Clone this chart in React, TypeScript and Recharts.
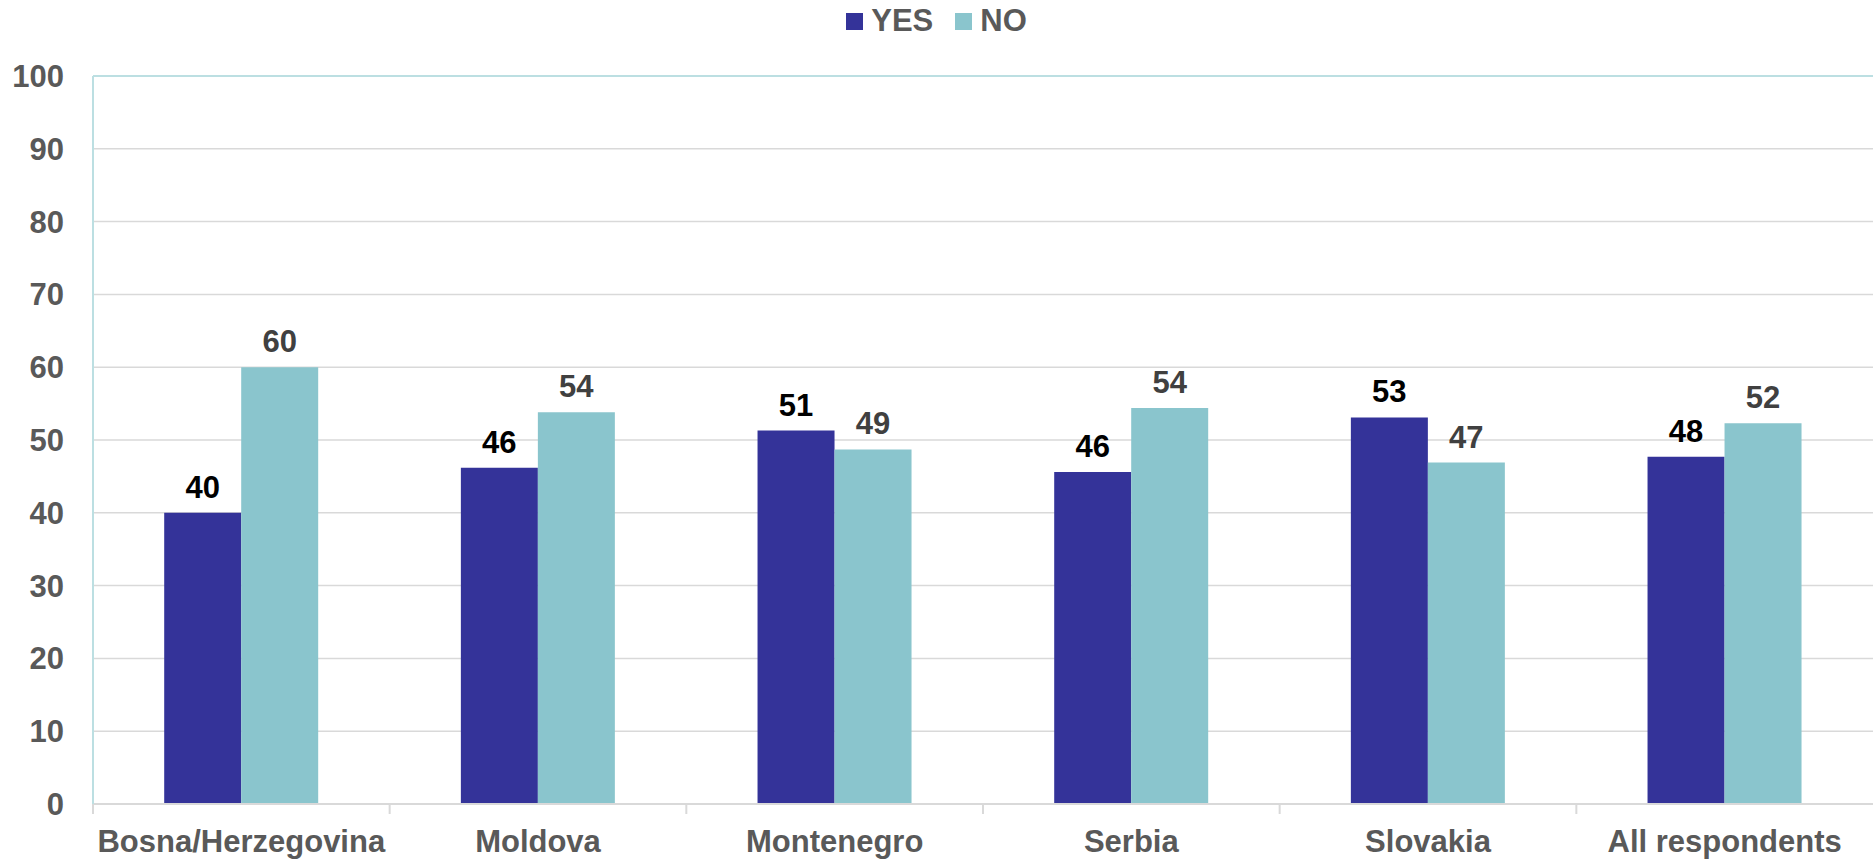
import { Bar, BarChart, CartesianGrid, LabelList, ReferenceLine, XAxis, YAxis } from 'recharts'

const categories = ['Bosna/Herzegovina', 'Moldova', 'Montenegro', 'Serbia', 'Slovakia', 'All respondents']
const yesValues = [40, 46.2, 51.3, 45.6, 53.1, 47.7]
const noValues = [60, 53.8, 48.7, 54.4, 46.9, 52.3]
const yTicks = [0, 10, 20, 30, 40, 50, 60, 70, 80, 90, 100]

const W = 1873
const H = 861
const AXIS_W = 93
const BAND = (W - AXIS_W) / categories.length
const FONT = '"Liberation Sans", Arial, sans-serif'
const GREY = '#595959'
const YES_COLOR = '#343399'
const NO_COLOR = '#8ac5cd'
const CYAN = '#bcdfe2'
const FS = 31

const data = categories.map((name, i) => ({ name, yes: yesValues[i], no: noValues[i] }))

function CategoryTick(props: any) {
  const { x, y, payload } = props
  const left = x - BAND / 2
  return (
    <g>
      <line x1={left} x2={left} y1={y} y2={y + 10} stroke="#d9d9d9" strokeWidth={2} />
      <text x={x} y={y + 48} textAnchor="middle" fill={GREY} fontSize={FS} fontWeight="bold" fontFamily={FONT}>
        {payload.value}
      </text>
    </g>
  )
}

function LegendBox() {
  const item = (label: string, color: string) => (
    <div style={{ display: 'flex', alignItems: 'center', gap: 8 }}>
      <div style={{ width: 17, height: 17, background: color }} />
      <span style={{ fontSize: FS, fontWeight: 'bold', color: GREY, fontFamily: FONT, lineHeight: '30px' }}>{label}</span>
    </div>
  )
  return (
    <div style={{ position: 'absolute', top: 6, left: 0, width: W, display: 'flex', justifyContent: 'center', gap: 22 }}>
      {item('YES', YES_COLOR)}
      {item('NO', NO_COLOR)}
    </div>
  )
}

export default function App() {
  return (
    <div style={{ position: 'absolute', left: 0, top: 0, width: W, height: H, background: '#fff' }}>
      <BarChart
        width={W}
        height={H}
        data={data}
        margin={{ top: 76, right: 0, left: 0, bottom: 0 }}
        barCategoryGap="24%"
        barGap={0}
      >
        <CartesianGrid vertical={false} stroke="#d9d9d9" strokeWidth={1.5} />
        <ReferenceLine y={100} stroke={CYAN} strokeWidth={2} />
        <XAxis
          dataKey="name"
          height={57}
          axisLine={{ stroke: '#d9d9d9', strokeWidth: 2 }}
          tickLine={false}
          tickSize={0}
          tickMargin={0}
          interval={0}
          tick={<CategoryTick />}
        />
        <YAxis
          width={AXIS_W}
          domain={[0, 100]}
          ticks={yTicks}
          interval={0}
          axisLine={{ stroke: CYAN, strokeWidth: 2 }}
          tickLine={false}
          tickSize={0}
          tickMargin={29}
          tick={{ fill: GREY, fontSize: FS, fontWeight: 'bold', fontFamily: FONT }}
        />
        <Bar dataKey="yes" name="YES" fill={YES_COLOR} isAnimationActive={false}>
          <LabelList
            dataKey="yes"
            position="top"
            offset={15}
            formatter={(v: any) => Math.round(Number(v))}
            style={{ fill: '#000', fontSize: FS, fontWeight: 'bold', fontFamily: FONT }}
          />
        </Bar>
        <Bar dataKey="no" name="NO" fill={NO_COLOR} isAnimationActive={false}>
          <LabelList
            dataKey="no"
            position="top"
            offset={15}
            formatter={(v: any) => Math.round(Number(v))}
            style={{ fill: '#404040', fontSize: FS, fontWeight: 'bold', fontFamily: FONT }}
          />
        </Bar>
      </BarChart>
      <LegendBox />
    </div>
  )
}
